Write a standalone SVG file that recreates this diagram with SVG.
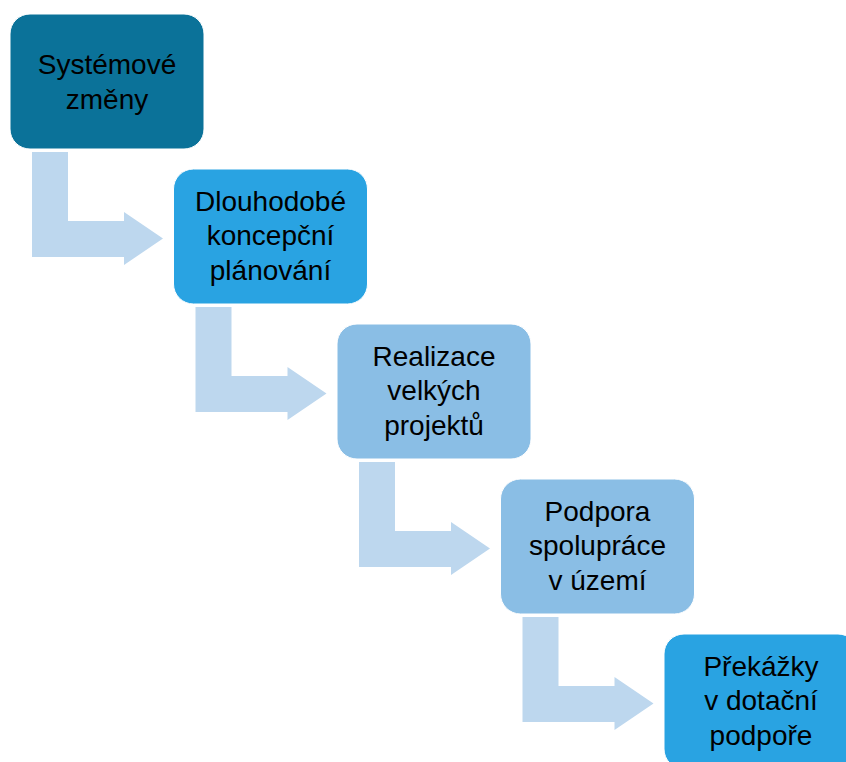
<svg xmlns="http://www.w3.org/2000/svg" width="846" height="762" viewBox="0 0 846 762">
<style>
.box{stroke:#ffffff;stroke-width:1}
.dark{fill:#0B7299}
.mid{fill:#29A3E2}
.light{fill:#8ABEE5}
.arr{fill:#BDD7EE}
.t{font-family:"Liberation Sans",Arial,sans-serif;font-size:28px;fill:#000000;text-anchor:middle}
</style>
<rect width="846" height="762" fill="#ffffff"/>
<g id="connectors">
<path class="arr" d="M32,152 H68 V221 H124 V212 L163,238.5 L124,265 V257 H32 Z"/>
<path class="arr" d="M195.5,307 H231.5 V376 H287.5 V367 L326.5,393.5 L287.5,420 V412 H195.5 Z"/>
<path class="arr" d="M359,462 H395 V531 H451 V522 L490,548.5 L451,575 V567 H359 Z"/>
<path class="arr" d="M522.5,617 H558.5 V686 H614.5 V677 L653.5,703.5 L614.5,730 V722 H522.5 Z"/>
</g>
<g id="node1">
<rect class="box dark" x="10" y="14" width="194" height="135" rx="20"/>
<text class="t" x="107" y="74">Systémové</text>
<text class="t" x="107" y="108.5">změny</text>
</g>
<g id="node2">
<rect class="box mid" x="173.5" y="169" width="194" height="135" rx="20"/>
<text class="t" x="270.5" y="210.5">Dlouhodobé</text>
<text class="t" x="270.5" y="245">koncepční</text>
<text class="t" x="270.5" y="279.5">plánování</text>
</g>
<g id="node3">
<rect class="box light" x="337" y="324" width="194" height="135" rx="20"/>
<text class="t" x="434" y="365.5">Realizace</text>
<text class="t" x="434" y="400">velkých</text>
<text class="t" x="434" y="434.5">projektů</text>
</g>
<g id="node4">
<rect class="box light" x="500.5" y="479" width="194" height="135" rx="20"/>
<text class="t" x="597.5" y="520.5">Podpora</text>
<text class="t" x="597.5" y="555">spolupráce</text>
<text class="t" x="597.5" y="589.5">v území</text>
</g>
<g id="node5">
<rect class="box mid" x="664" y="634" width="194" height="135" rx="20"/>
<text class="t" x="761" y="675.5">Překážky</text>
<text class="t" x="761" y="710">v dotační</text>
<text class="t" x="761" y="744.5">podpoře</text>
</g>
</svg>
